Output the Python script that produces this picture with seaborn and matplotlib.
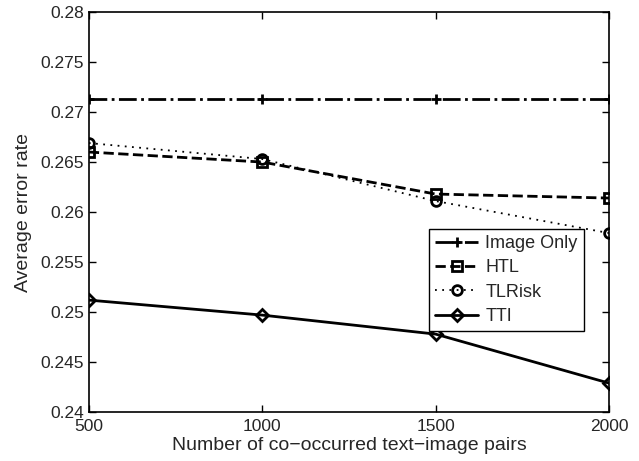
import matplotlib
matplotlib.use("Agg")
import matplotlib.pyplot as plt
import seaborn as sns
import pandas as pd

pairs = [500, 1000, 1500, 2000]
image_only = [0.2713, 0.2713, 0.2713, 0.2713]
htl = [0.2660, 0.2650, 0.2618, 0.2614]
tlrisk = [0.2669, 0.2653, 0.2611, 0.2579]
tti = [0.2512, 0.2497, 0.2478, 0.2429]

series = [
    ("Image Only", image_only, "-.", "+"),
    ("HTL", htl, "--", "s"),
    ("TLRisk", tlrisk, (0, (1, 3)), "o"),
    ("TTI", tti, "-", "D"),
]

sns.set_style("ticks")
plt.rcParams["font.family"] = ["Liberation Sans", "DejaVu Sans"]
plt.rcParams["xtick.direction"] = "in"
plt.rcParams["ytick.direction"] = "in"

fig = plt.figure(figsize=(6.39, 4.61), dpi=100)
ax = fig.add_axes([0.139, 0.106, 0.814, 0.868])

for name, vals, ls, m in series:
    df = pd.DataFrame({"x": pairs, "y": vals})
    sns.lineplot(data=df, x="x", y="y", ax=ax, color="black", linestyle=ls,
                 linewidth=1.3 if m == "o" else 2, marker=m,
                 markersize=7 if m != "D" else 6,
                 markerfacecolor="none" if m != "+" else "black",
                 markeredgecolor="black", markeredgewidth=2, label=name)

ax.set_xlim(500, 2000)
ax.set_ylim(0.24, 0.28)
ax.set_xticks([500, 1000, 1500, 2000])
ax.set_yticks([0.24, 0.245, 0.25, 0.255, 0.26, 0.265, 0.27, 0.275, 0.28])
ax.set_yticklabels(["0.24", "0.245", "0.25", "0.255", "0.26", "0.265", "0.27", "0.275", "0.28"])
ax.tick_params(axis="both", labelsize=12.5, top=True, right=True, length=5, width=1, color="black")
ax.tick_params(axis="x", pad=5)
for s in ax.spines.values():
    s.set_color("black")
    s.set_linewidth(1.2)
ax.set_xlabel("Number of co\u2212occurred text\u2212image pairs", fontsize=14, labelpad=2)
ax.set_ylabel("Average error rate", fontsize=14, labelpad=6)

leg = ax.legend(loc="upper right", bbox_to_anchor=(0.952, 0.458), fontsize=13,
                frameon=True, fancybox=False, edgecolor="black", framealpha=1,
                handlelength=2.4, borderpad=0.35, labelspacing=0.4, handletextpad=0.4,
                borderaxespad=0)
leg.get_frame().set_linewidth(1)

fig.savefig("out.png", dpi=100)
